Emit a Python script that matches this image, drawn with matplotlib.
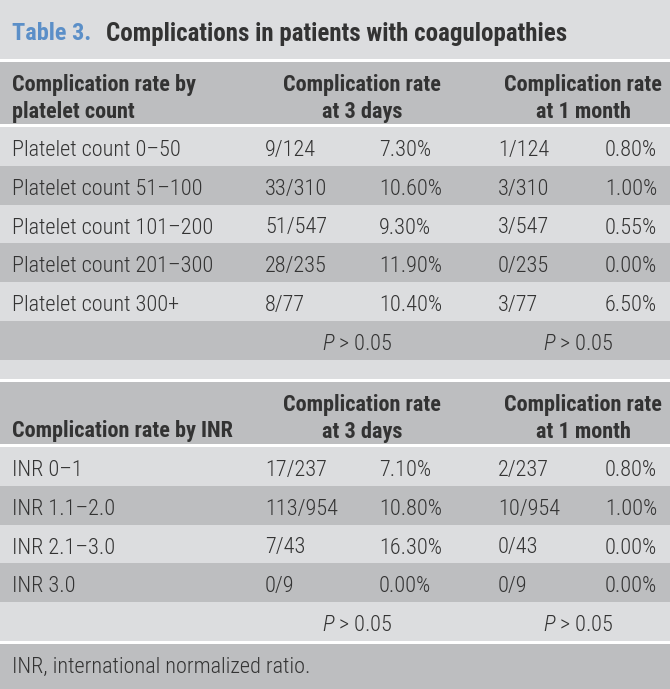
import matplotlib
matplotlib.use('Agg')
import matplotlib.pyplot as plt
from matplotlib.patches import Rectangle

# --- table content ---
title_num = 'Table 3.'
title_text = 'Complications in patients with coagulopathies'

plt_header = ['Complication rate by\nplatelet count', 'Complication rate\nat 3 days', 'Complication rate\nat 1 month']
plt_labels = ['Platelet count 0–50', 'Platelet count 51–100', 'Platelet count 101–200',
              'Platelet count 201–300', 'Platelet count 300+']
plt_n3 = ['9/124', '33/310', '51/547', '28/235', '8/77']
plt_r3 = ['7.30%', '10.60%', '9.30%', '11.90%', '10.40%']
plt_n30 = ['1/124', '3/310', '3/547', '0/235', '3/77']
plt_r30 = ['0.80%', '1.00%', '0.55%', '0.00%', '6.50%']

inr_header = ['Complication rate by INR', 'Complication rate\nat 3 days', 'Complication rate\nat 1 month']
inr_labels = ['INR 0–1', 'INR 1.1–2.0', 'INR 2.1–3.0', 'INR 3.0']
inr_n3 = ['17/237', '113/954', '7/43', '0/9']
inr_r3 = ['7.10%', '10.80%', '16.30%', '0.00%']
inr_n30 = ['2/237', '10/954', '0/43', '0/9']
inr_r30 = ['0.80%', '1.00%', '0.00%', '0.00%']

p_values = ['$P$ > 0.05', '$P$ > 0.05']
footnote = 'INR, international normalized ratio.'

LIGHT = '#dcdddf'
DARK = '#bdbec0'
TEXT = '#333333'
BLUE = '#5b8fc8'
FONT = ['Roboto Condensed', 'Archivo Narrow', 'DejaVu Sans']

plt.rcParams['font.family'] = FONT
plt.rcParams['mathtext.fontset'] = 'custom'
plt.rcParams['mathtext.it'] = 'Roboto Condensed:italic:light'
plt.rcParams['mathtext.rm'] = 'Roboto Condensed:light'

W, H = 670, 689
fig = plt.figure(figsize=(W / 100, H / 100), dpi=100)
ax = fig.add_axes([0, 0, 1, 1])
ax.set_xlim(0, W)
ax.set_ylim(H, 0)
ax.axis('off')
fig.patch.set_facecolor(LIGHT)


def band(y0, y1, color):
    ax.add_patch(Rectangle((0, y0), W, y1 - y0, facecolor=color, edgecolor='none'))


def hline(y):
    ax.add_patch(Rectangle((0, y - 1.5), W, 3, facecolor='white', edgecolor='none'))


def txt(x, y, s, ha='left', bold=False, size=16, color=TEXT):
    ax.text(x, y, s, ha=ha, va='center', fontsize=size, color=color,
            fontweight='bold' if bold else 'light', linespacing=1.3)


# title
band(0, 60, LIGHT)
txt(12, 34, title_num, size=17.5, bold=True, color=BLUE)
txt(106, 34, title_text, size=18, bold=True)
hline(60)

COL1, COL2, COL3, COL4 = 265, 379, 498, 657
HC1, HC2 = 362, 583
ROW_H = 38.8


def section(top, header, header_h, labels, n3, r3, n30, r30):
    band(top, top + header_h, DARK)
    h_mid = top + header_h / 2 + 5.5
    if '\n' in header[0]:
        txt(12, h_mid, header[0], bold=True)
    else:
        txt(12, h_mid + 13, header[0], bold=True)
    txt(HC1, h_mid, header[1], ha='center', bold=True)
    txt(HC2, h_mid, header[2], ha='center', bold=True)
    hline(top + header_h + 1)
    y = top + header_h + 2.5
    for i, lab in enumerate(labels):
        band(y, y + ROW_H, DARK if i % 2 else LIGHT)
        yc = y + ROW_H / 2 + 4
        txt(12, yc, lab)
        txt(COL1, yc, n3[i])
        txt(COL2, yc, r3[i])
        txt(COL3, yc, n30[i])
        txt(COL4, yc, r30[i], ha='right')
        y += ROW_H
    # p-value row
    band(y, y + ROW_H, DARK if len(labels) % 2 else LIGHT)
    yc = y + ROW_H / 2 + 4
    txt(357, yc, p_values[0], ha='center')
    txt(578, yc, p_values[1], ha='center')
    return y + ROW_H


end1 = section(61.5, plt_header, 63, plt_labels, plt_n3, plt_r3, plt_n30, plt_r30)
hline(380)
end2 = section(381.5, inr_header, 63, inr_labels, inr_n3, inr_r3, inr_n30, inr_r30)
hline(end2 + 1.5)
band(end2 + 3, H, DARK)
txt(12, (end2 + 3 + H) / 2 + 1, footnote)

fig.savefig('out.png', dpi=100, facecolor=LIGHT)
